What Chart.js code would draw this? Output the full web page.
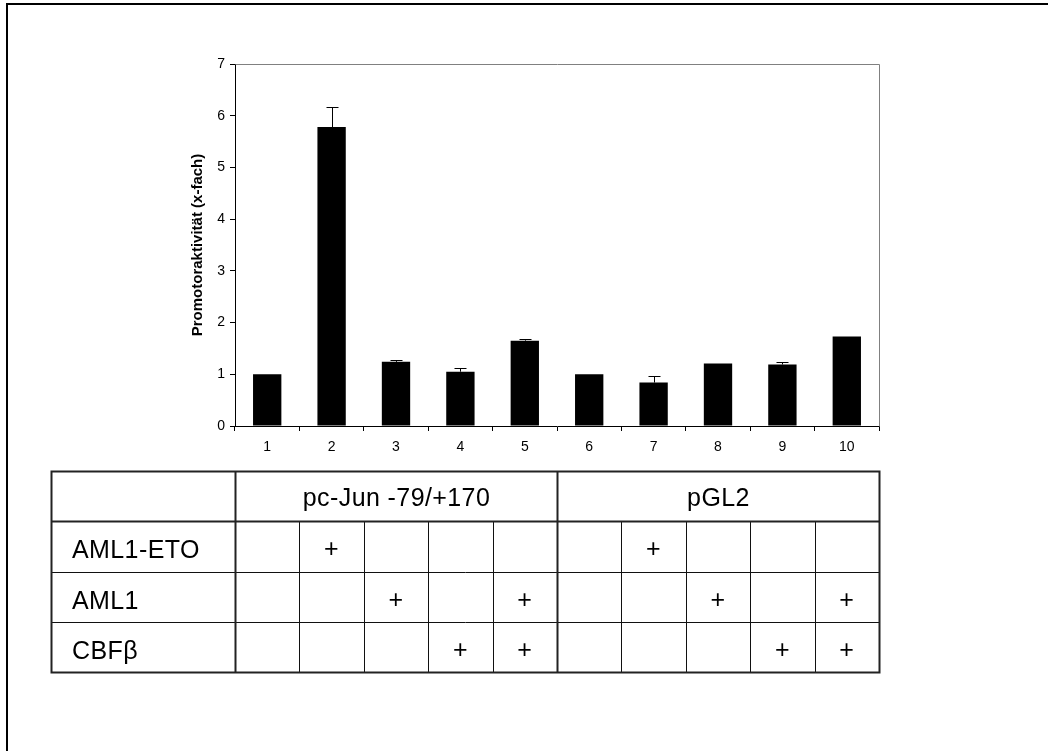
<!DOCTYPE html>
<html>
<head>
<meta charset="utf-8">
<script src="https://cdn.jsdelivr.net/npm/chart.js@4"></script>
<style>
  html, body { margin: 0; padding: 0; background: #fff; }
</style>
</head>
<body>
<canvas id="myChart" width="1048" height="751"></canvas>
<script>
// data
const lanes = ['1', '2', '3', '4', '5', '6', '7', '8', '9', '10'];
const activity = [1.0, 5.78, 1.24, 1.05, 1.65, 1.0, 0.84, 1.21, 1.19, 1.73];
const errors = [0, 0.38, 0.03, 0.08, 0.03, 0, 0.13, 0, 0.05, 0];
const yTicks = [0, 1, 2, 3, 4, 5, 6, 7];

// table under the chart
const groups = ['pc-Jun -79/+170', 'pGL2'];
const rowLabels = ['AML1-ETO', 'AML1', 'CBF\u03b2'];
const aml1eto = [0, 1, 0, 0, 0, 0, 1, 0, 0, 0];
const aml1 = [0, 0, 1, 0, 1, 0, 0, 1, 0, 1];
const cbfb = [0, 0, 0, 1, 1, 0, 0, 0, 1, 1];
const marks = [aml1eto, aml1, cbfb];

const FONT = '"Liberation Sans", Arial, sans-serif';

const errorBars = {
    id: 'errorBars',
    afterDatasetsDraw(chart) {
        const ctx = chart.ctx;
        const y = chart.scales.y;
        const meta = chart.getDatasetMeta(0);
        ctx.save();
        ctx.strokeStyle = '#000';
        ctx.lineWidth = 1;
        meta.data.forEach((bar, i) => {
            if (!errors[i]) return;
            const x = Math.round(bar.x) + 0.5;
            const top = Math.round(y.getPixelForValue(activity[i] + errors[i])) + 0.5;
            ctx.beginPath();
            ctx.moveTo(x, bar.y);
            ctx.lineTo(x, top);
            ctx.moveTo(x - 6, top);
            ctx.lineTo(x + 6, top);
            ctx.stroke();
        });
        ctx.restore();
    }
};

const frameAndTable = {
    id: 'frameAndTable',
    afterDraw(chart) {
        const ctx = chart.ctx;
        const area = chart.chartArea;
        const xs = chart.scales.x;
        ctx.save();

        // grey top / right border of the plot
        ctx.strokeStyle = '#808080';
        ctx.lineWidth = 1;
        ctx.beginPath();
        ctx.moveTo(Math.round(area.left) + 0.5, Math.round(area.top) + 0.5);
        ctx.lineTo(Math.round(area.right) + 0.5, Math.round(area.top) + 0.5);
        ctx.lineTo(Math.round(area.right) + 0.5, Math.round(area.bottom) + 0.5);
        ctx.stroke();

        // outer frame (left and top only, cut off on the other sides)
        ctx.fillStyle = '#000';
        ctx.fillRect(6, 3, 2, 748);
        ctx.fillRect(6, 3, 1042, 2);

        // table
        const step = xs.getPixelForValue(1) - xs.getPixelForValue(0);
        const edge = i => Math.round(xs.getPixelForValue(i) - step / 2) + 0.5;
        const left = 51.5;
        const right = edge(lanes.length);
        const rows = [471.5, 521.5, 572.5, 622.5, 672.5];

        ctx.strokeStyle = '#111';
        ctx.lineWidth = 1;
        ctx.beginPath();
        for (let r = 2; r < rows.length - 1; r++) {
            ctx.moveTo(left, rows[r]);
            ctx.lineTo(right, rows[r]);
        }
        for (let i = 1; i < lanes.length; i++) {
            if (i === 5) continue;
            ctx.moveTo(edge(i), rows[1]);
            ctx.lineTo(edge(i), rows[4]);
        }
        ctx.stroke();

        ctx.strokeStyle = '#222';
        ctx.lineWidth = 2;
        ctx.beginPath();
        ctx.rect(left, rows[0], right - left, rows[4] - rows[0]);
        ctx.moveTo(left, rows[1]);
        ctx.lineTo(right, rows[1]);
        ctx.moveTo(edge(0), rows[0]);
        ctx.lineTo(edge(0), rows[4]);
        ctx.moveTo(edge(5), rows[0]);
        ctx.lineTo(edge(5), rows[4]);
        ctx.stroke();

        ctx.fillStyle = '#000';
        ctx.font = '25px ' + FONT;
        ctx.letterSpacing = '0.4px';
        ctx.textBaseline = 'alphabetic';
        ctx.textAlign = 'center';
        groups.forEach((g, k) => {
            const cx = (edge(k * 5) + edge(k * 5 + 5)) / 2;
            ctx.fillText(g, cx, rows[0] + 34);
        });
        ctx.textAlign = 'left';
        rowLabels.forEach((lab, r) => {
            ctx.fillText(lab, 72, rows[r + 1] + 36);
        });
        ctx.textAlign = 'center';
        marks.forEach((row, r) => {
            row.forEach((m, i) => {
                if (m) ctx.fillText('+', xs.getPixelForValue(i), rows[r + 1] + 35);
            });
        });
        ctx.restore();
    }
};

new Chart('myChart', {
    type: 'bar',
    data: {
        labels: lanes,
        datasets: [{
            data: activity,
            backgroundColor: '#000',
            borderWidth: 0,
            barPercentage: 0.44,
            categoryPercentage: 1
        }]
    },
    options: {
        responsive: false,
        animation: false,
        layout: { padding: { left: 189, top: 64, right: 169, bottom: 295 } },
        plugins: {
            legend: { display: false },
            tooltip: { enabled: false }
        },
        scales: {
            x: {
                grid: { drawOnChartArea: false, tickLength: 5, color: '#000', offset: true },
                border: { color: '#000' },
                ticks: { color: '#000', font: { family: FONT, size: 14 }, padding: 8 },
                afterFit(scale) { scale.height = 30; }
            },
            y: {
                min: 0,
                max: 7,
                afterBuildTicks(scale) { scale.ticks = yTicks.map(v => ({ value: v })); },
                grid: { drawOnChartArea: false, tickLength: 5, color: '#000' },
                border: { color: '#000' },
                ticks: { color: '#000', font: { family: FONT, size: 14 }, padding: 5 },
                title: {
                    display: true,
                    text: 'Promotoraktivität (x-fach)',
                    color: '#000',
                    font: { family: FONT, size: 15, weight: 'bold' },
                    padding: 0
                },
                afterFit(scale) { scale.width = 46; }
            }
        }
    },
    plugins: [errorBars, frameAndTable]
});
</script>
</body>
</html>
